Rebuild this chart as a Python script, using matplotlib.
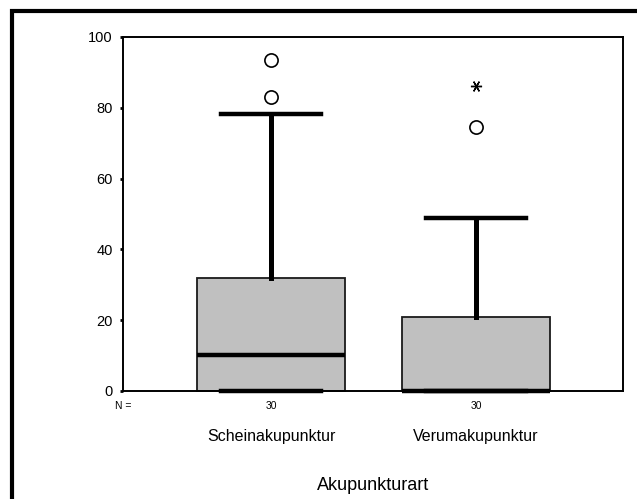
import matplotlib
matplotlib.use("Agg")
import matplotlib.pyplot as plt
from matplotlib.patches import Rectangle

# ---- data ----
categories = ["Scheinakupunktur", "Verumakupunktur"]
n_counts = [30, 30]
q1_vals = [0.0, 0.0]
median_vals = [10.2, 0.0]
q3_vals = [32.0, 20.8]
whisker_low = [0.0, 0.0]
whisker_high = [78.3, 48.8]
outliers = [[83.0, 93.5], [74.6]]
extremes = [[], [86.2]]
y_ticks = [0, 20, 40, 60, 80, 100]
x_label = "Akupunkturart"

plt.rcParams['font.family'] = ['Liberation Sans', 'DejaVu Sans']

fig = plt.figure(figsize=(6.37, 4.99), dpi=100)
W, H = 637, 499

# outer frame
fig.patches.append(Rectangle((11.5 / W, -0.1), 1.2, 1 - 11.5 / H + 0.1,
                             transform=fig.transFigure, fill=False,
                             edgecolor='black', linewidth=3.0))

ax = fig.add_axes([123 / W, 1 - 391 / H, 500 / W, 354 / H])

positions = [1, 2]
stats = []
for i in range(len(categories)):
    stats.append(dict(med=median_vals[i], q1=q1_vals[i], q3=q3_vals[i],
                      whislo=whisker_low[i], whishi=whisker_high[i],
                      fliers=[], label=categories[i]))

art = ax.bxp(stats, positions=positions, widths=0.72, capwidths=0.49,
             patch_artist=True, showfliers=False,
             boxprops=dict(facecolor='#c0c0c0', edgecolor='#1a1a1a', linewidth=1.3),
             medianprops=dict(color='black', linewidth=3.2, solid_capstyle='butt'),
             whiskerprops=dict(color='black', linewidth=3.6),
             capprops=dict(color='black', linewidth=3.2))
for key in ('medians', 'caps', 'whiskers', 'boxes'):
    for a in art[key]:
        a.set_clip_on(False)
for a in art['medians']:
    a.set_zorder(3)

for i, p in enumerate(positions):
    if outliers[i]:
        ax.plot([p] * len(outliers[i]), outliers[i], linestyle='none',
                marker='o', markersize=9.5, markerfacecolor='none',
                markeredgecolor='black', markeredgewidth=1.2, clip_on=False)
    if extremes[i]:
        ax.plot([p] * len(extremes[i]), extremes[i], linestyle='none',
                marker=(6, 2, 90), markersize=8, markeredgecolor='black',
                markeredgewidth=1.0, clip_on=False)

ax.set_xlim(0.278, 2.717)
ax.set_ylim(0, 100)
ax.set_yticks(y_ticks)
ax.set_yticklabels([str(t) for t in y_ticks], fontsize=10.5)
ax.tick_params(axis='y', direction='out', length=2.5, width=2, pad=5)
ax.set_xticks([])
for s in ax.spines.values():
    s.set_linewidth(1.4)
    s.set_color('black')

trans = ax.get_xaxis_transform()
ax.text(0.278, -0.043, "N =", transform=trans, ha='center', va='center',
        fontsize=7.5)
for i, p in enumerate(positions):
    ax.text(p, -0.043, str(n_counts[i]), transform=trans, ha='center',
            va='center', fontsize=7.5)
    ax.text(p, -0.128, categories[i], transform=trans, ha='center',
            va='center', fontsize=11.5)

ax.text(0.5, -0.268, x_label, transform=ax.transAxes, ha='center',
        va='center', fontsize=13)

fig.savefig("out.png", dpi=100)
